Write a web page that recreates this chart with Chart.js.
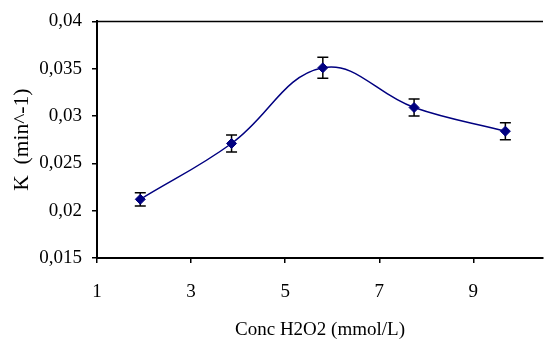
<!DOCTYPE html>
<html>
<head>
<meta charset="utf-8">
<script src="https://cdn.jsdelivr.net/npm/chart.js@4/dist/chart.umd.min.js"></script>
<style>
  html, body { margin: 0; padding: 0; background: #fff; }
  #wrap { width: 549px; height: 341px; }
</style>
</head>
<body>
<div id="wrap"><canvas id="c" width="549" height="341"></canvas></div>
<script>
// ---- Data ----
const concH2O2 = [1.92, 3.86, 5.80, 7.74, 9.68];          // x, mmol/L
const kValues  = [0.0212, 0.0271, 0.0351, 0.0309, 0.0284]; // K, min^-1
const kErrors  = [0.0007, 0.0009, 0.0011, 0.0009, 0.0009]; // +/- error
const xTickValues = [1, 3, 5, 7, 9];
const yTickValues = [0.015, 0.02, 0.025, 0.03, 0.035, 0.04];
const yTickLabels = ['0,015', '0,02', '0,025', '0,03', '0,035', '0,04'];

const serif = "'Liberation Serif', 'Times New Roman', serif";
const navy = '#000080';

const errorBars = {
  id: 'errorBars',
  beforeDatasetsDraw(chart) {
    const {ctx, scales: {x, y}} = chart;
    ctx.save();
    ctx.strokeStyle = '#000';
    ctx.lineWidth = 1.5;
    concH2O2.forEach((cx, i) => {
      const px = x.getPixelForValue(cx);
      const top = y.getPixelForValue(kValues[i] + kErrors[i]);
      const bot = y.getPixelForValue(kValues[i] - kErrors[i]);
      ctx.beginPath();
      ctx.moveTo(px, top); ctx.lineTo(px, bot);
      ctx.moveTo(px - 5.5, top); ctx.lineTo(px + 5.5, top);
      ctx.moveTo(px - 5.5, bot); ctx.lineTo(px + 5.5, bot);
      ctx.stroke();
    });
    ctx.restore();
  }
};

const topBorder = {
  id: 'topBorder',
  afterDraw(chart) {
    const {ctx, chartArea} = chart;
    ctx.save();
    ctx.strokeStyle = '#000';
    ctx.lineWidth = 1.5;
    ctx.beginPath();
    ctx.moveTo(chartArea.left, chartArea.top);
    ctx.lineTo(chartArea.right, chartArea.top);
    ctx.stroke();
    ctx.restore();
  }
};

new Chart(document.getElementById('c'), {
  type: 'scatter',
  data: {
    datasets: [{
      data: concH2O2.map((v, i) => ({x: v, y: kValues[i]})),
      showLine: true,
      borderColor: navy,
      borderWidth: 1.5,
      tension: 0.4,
      pointStyle: 'rectRot',
      pointRadius: 5,
      pointBackgroundColor: navy,
      pointBorderColor: navy,
      pointBorderWidth: 1
    }]
  },
  options: {
    responsive: false,
    devicePixelRatio: 1,
    animation: false,
    layout: { padding: { top: 20, right: 0, left: 0, bottom: 0 } },
    plugins: { legend: { display: false }, tooltip: { enabled: false } },
    scales: {
      x: {
        type: 'linear',
        min: 1,
        max: 10.48,
        afterBuildTicks: s => { s.ticks = xTickValues.map(v => ({value: v})); },
        afterFit: s => { s.height = 83; },
        ticks: { color: '#000', font: { family: serif, size: 19 }, padding: 18, callback: v => String(v) },
        grid: { drawOnChartArea: false, drawTicks: true, tickLength: 5, color: '#000', lineWidth: 1.5 },
        border: { display: true, color: '#000', width: 2 },
        title: { display: true, text: 'Conc H2O2 (mmol/L)', color: '#000', font: { family: serif, size: 19 }, padding: { top: 3, bottom: 0 } }
      },
      y: {
        type: 'linear',
        min: 0.015,
        max: 0.04,
        afterBuildTicks: s => { s.ticks = yTickValues.map(v => ({value: v})); },
        afterFit: s => { s.width = 97; },
        ticks: { color: '#000', font: { family: serif, size: 19 }, padding: 10,
                 callback: (v, i) => yTickLabels[i] },
        grid: { drawOnChartArea: false, drawTicks: true, tickLength: 5, color: '#000', lineWidth: 1.5 },
        border: { display: true, color: '#000', width: 2 },
        title: { display: true, text: 'K  (min^-1)', color: '#000', font: { family: serif, size: 21.5 }, padding: { top: 9, bottom: 0 } }
      }
    }
  },
  plugins: [errorBars, topBorder]
});
</script>
</body>
</html>
